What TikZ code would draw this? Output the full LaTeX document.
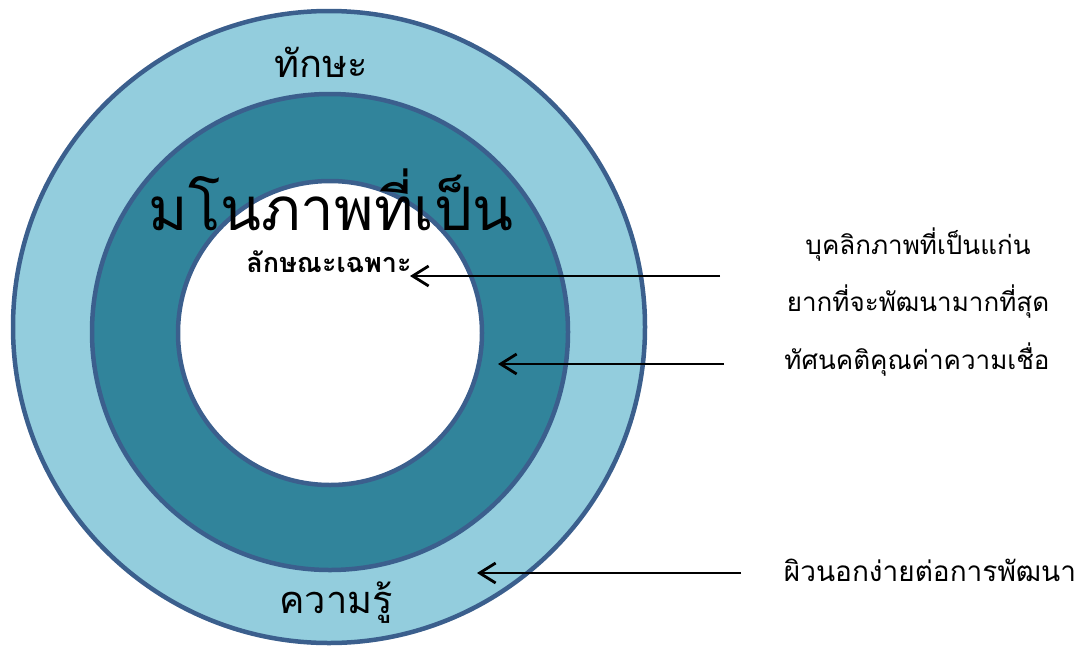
\documentclass[tikz,border=0pt]{standalone}
\usepackage{fontspec}
\newfontfamily\thai[Script=Thai]{Loma}
\usetikzlibrary{arrows.meta}
\definecolor{ringline}{HTML}{3B5F8D}
\definecolor{outerfill}{HTML}{93CDDD}
\definecolor{midfill}{HTML}{31849B}
\tikzset{
  ring/.style={circle, draw=ringline, line width=4.5pt, inner sep=0pt},
  lbl/.style={font=\thai\fontsize{26}{30}\selectfont, text=black, inner sep=0pt},
  pointer/.style={line width=2.8pt, -{Straight Barb[length=16pt,width=20pt,line width=2.8pt]}}
}
\begin{document}
\begin{tikzpicture}[x=1pt,y=-1pt]
\useasboundingbox (0,0) rectangle (1076,646);
\node[ring, fill=outerfill, minimum size=632pt] (outer) at (329,327) {};
\node[ring, fill=midfill, minimum size=476pt] (mid) at (330,332) {};
\node[ring, fill=white, minimum size=304pt] (inner) at (330,333) {};
\node[lbl, font=\thai\fontsize{38}{42}\selectfont] (skill) at (321,62) {ทักษะ};
\node[lbl, font=\thai\fontsize{38}{42}\selectfont] (know) at (336,603) {ความรู้};
\node[lbl, font=\thai\fontsize{60}{66}\selectfont] (concept) at (331,200) {มโนภาพที่เป็น};
\node[lbl, font=\thai\bfseries\fontsize{27}{30}\selectfont] (trait) at (329,262) {ลักษณะเฉพาะ};
\node[lbl] (t1) at (918,245) {บุคลิกภาพที่เป็นแก่น};
\node[lbl] (t2) at (918,302) {ยากที่จะพัฒนามากที่สุด};
\node[lbl] (t3) at (917,360) {ทัศนคติคุณค่าความเชื่อ};
\node[lbl, font=\thai\fontsize{28}{32}\selectfont] (t4) at (930,570) {ผิวนอกง่ายต่อการพัฒนา};
\coordinate (a1s) at (720,276);
\coordinate (a1e) at (410,276);
\coordinate (a2s) at (724,364);
\coordinate (a2e) at (498,364);
\coordinate (a3s) at (741,573);
\coordinate (a3e) at (477,573);
\draw[pointer] (a1s) -- (a1e);
\draw[pointer] (a2s) -- (a2e);
\draw[pointer] (a3s) -- (a3e);
\end{tikzpicture}
\end{document}
